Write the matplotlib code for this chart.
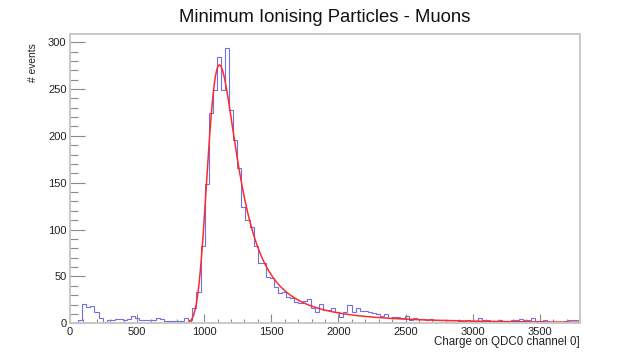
import numpy as np
import matplotlib
matplotlib.use("Agg")
import matplotlib.pyplot as plt
from matplotlib.ticker import MultipleLocator

# ─── Data ─────────────────────────────────────────────────────────────────────

X_MAX = 3800
N_BINS = 125           # 125 bins over 0-3800 channels

# events per bin, starting at channel 0
counts_pedestal = [0, 0, 3, 21, 17, 18, 12, 6, 0, 3,
                   3, 5, 5, 3, 5, 8, 6, 3, 3, 3,
                   3, 6, 5, 2, 2, 2, 2, 2, 6, 3]
counts_peak = [16, 33, 82, 149, 224, 249, 284, 249, 294, 228,
               196, 166, 124, 110, 103, 82, 64, 64, 49, 48,
               39, 32]
counts_shoulder = [33, 28, 27, 23, 22, 24, 26, 16, 12, 21]
counts_tail = [14, 14, 16, 12, 7, 12, 19, 12, 16, 13,
               13, 12, 11, 10, 8, 10, 6, 7, 7, 6,
               8, 4, 6, 5, 5, 4, 5, 4, 3, 3,
               3, 3, 4, 2, 2, 4, 2, 2, 6]
counts_end = [3, 4, 2, 2, 3, 1, 2, 4, 4, 5,
              3, 4, 6, 2, 2, 3, 1, 1, 0, 0,
              2, 3, 4, 4]

FIT_MIN = 850          # lower edge of the fit range (channels)

TITLE = "Minimum Ionising Particles - Muons"
X_LABEL = "Charge on QDC0 channel 0]"
Y_LABEL = "# events"


# ─── Landau (x) Gauss fit ─────────────────────────────────────────────────────

def landau_density(lam):
    """Standard Landau density from its Laplace-type integral."""
    lam = np.atleast_1d(lam).astype(float)
    out = np.zeros_like(lam)
    t = np.concatenate([np.geomspace(1e-8, 1.0, 4000), np.linspace(1.0, 50.0, 12000)[1:]])
    base = -t * np.log(t)
    sin_t = np.sin(np.pi * t)
    ok = np.where(lam > -3.5)[0]
    for start in range(0, len(ok), 100):
        idx = ok[start:start + 100]
        integrand = np.exp(base[None, :] - np.outer(lam[idx], t)) * sin_t[None, :]
        out[idx] = np.trapezoid(integrand, t, axis=1) / np.pi
    return np.clip(out, 0, None)


LAM_GRID = np.concatenate([np.linspace(-3.5, 20, 2500), np.geomspace(20, 600, 500)[1:]])
LAM_PDF = landau_density(LAM_GRID)
XS = np.arange(-1500, 5600, 2.0)


def langaus_shape(sig_l, sig_g):
    """Landau(mpv=0, sig_l) convolved with Gauss(sig_g), sampled on XS."""
    land = np.interp(XS / sig_l, LAM_GRID, LAM_PDF, left=0, right=0) / sig_l
    k = np.arange(-5 * sig_g, 5 * sig_g + 2, 2.0)
    g = np.exp(-0.5 * (k / sig_g) ** 2)
    g /= g.sum()
    return np.convolve(land, g, mode="same")


def fit_langaus(centers, y):
    """Chi-square grid fit, amplitude solved linearly at each point."""
    w = 1.0 / np.maximum(y, 1.0)
    mpvs = np.arange(1000, 1200, 3.0)
    best = None
    for sig_l in np.arange(10, 110, 4.0):
        for sig_g in np.arange(10, 130, 4.0):
            shape = langaus_shape(sig_l, sig_g)
            f = np.array([np.interp(centers - m, XS, shape) for m in mpvs])
            amp = (f * y * w).sum(axis=1) / np.maximum((f * f * w).sum(axis=1), 1e-30)
            chi2 = ((y - amp[:, None] * f) ** 2 * w).sum(axis=1)
            i = np.argmin(chi2)
            if best is None or chi2[i] < best[0]:
                best = (chi2[i], mpvs[i], sig_l, sig_g, amp[i])
    return best[1:]


# ─── Plot ─────────────────────────────────────────────────────────────────────

counts = np.array(counts_pedestal + counts_peak + counts_shoulder + counts_tail + counts_end,
                  dtype=float)
edges = np.linspace(0, X_MAX, N_BINS + 1)
centers = 0.5 * (edges[:-1] + edges[1:])

sel = (centers >= FIT_MIN) & (counts > 0)
mpv, sig_l, sig_g, amp = fit_langaus(centers[sel], counts[sel])
shape = langaus_shape(sig_l, sig_g)
xf = np.linspace(0, X_MAX, 800)
yf = amp * np.interp(xf - mpv, XS, shape)

plt.rcParams["font.family"] = ["Liberation Sans", "DejaVu Sans"]

fig = plt.figure(figsize=(6.34, 3.58), dpi=100)
ax = fig.add_axes([70 / 634, 1 - 323.3 / 358, 510 / 634, 289.3 / 358])

ax.stairs(counts, edges, color="#7070e0", linewidth=0.8)
ax.plot(xf, yf, color="#ff2a2a", linewidth=1.1)

ax.set_xlim(0, X_MAX)
ax.set_ylim(0, 1.05 * counts.max())

ax.xaxis.set_major_locator(MultipleLocator(500))
ax.xaxis.set_minor_locator(MultipleLocator(100))
ax.yaxis.set_major_locator(MultipleLocator(50))
ax.yaxis.set_minor_locator(MultipleLocator(10))

for side in ["left", "right", "top", "bottom"]:
    ax.spines[side].set_color("#c8c8c8")
    ax.spines[side].set_linewidth(1.4)

ax.tick_params(axis="both", which="both", direction="in", colors="#8a8a8a",
               labelcolor="#222222", labelsize=8.0, width=0.8)
ax.tick_params(axis="y", which="major", length=10.8, pad=2.5)
ax.tick_params(axis="y", which="minor", length=5.4)
ax.tick_params(axis="x", which="major", length=6.3, pad=3)
ax.tick_params(axis="x", which="minor", length=3.2)

fig.text((70 + 580) / 2 / 634, 1 - 18 / 358, TITLE, ha="center", va="center",
         fontsize=13.3, color="#111111")
fig.text(580 / 634, 1 - 342 / 358, X_LABEL, ha="right", va="center",
         fontsize=8.3, color="#222222")
fig.text(33 / 634, 1 - 43 / 358, Y_LABEL, ha="center", va="top",
         rotation=90, fontsize=7.4, color="#222222")

fig.savefig("out.png", dpi=100)
